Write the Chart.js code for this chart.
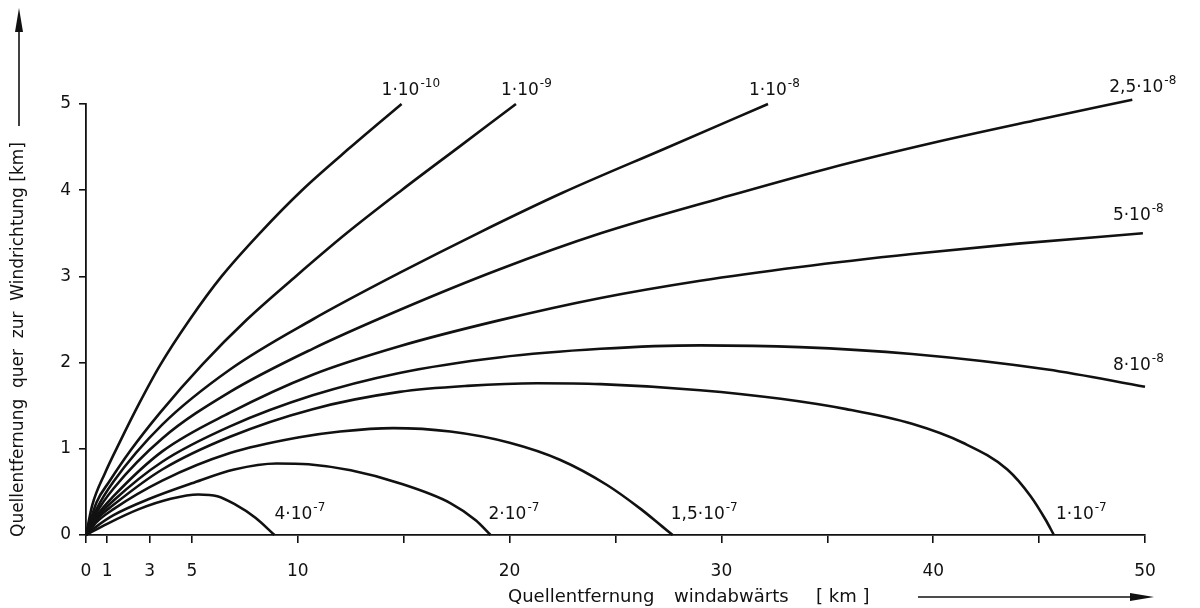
<!DOCTYPE html>
<html>
<head>
<meta charset="utf-8">
<script src="https://cdn.jsdelivr.net/npm/chart.js@4/dist/chart.umd.min.js"></script>
<style>
html, body { margin: 0; padding: 0; background: #fff; }
#wrap { width: 1200px; height: 608px; }
</style>
</head>
<body>
<div id="wrap"><canvas id="chart" width="1200" height="608"></canvas></div>
<script>
"use strict";

/*global Chart*/

// axis ticks
var xTicks = [0, 1, 3, 5, 10, 15, 20, 25, 30, 35, 40, 45, 50],
    xTickLabels = ['0', '1', '3', '5', '10', '', '20', '', '30', '', '40', '', '50'],
    yTicks = [0, 1, 2, 3, 4, 5];

// isolines [x km, y km]
var c1e10 = [[0, 0], [0.3, 0.35], [0.9, 0.72], [1.6, 1.08], [2.5, 1.52], [3.5, 1.97], [4.9, 2.5], [6.4, 3.0], [8.2, 3.5], [10.2, 4.0], [12.5, 4.5], [14.9, 5.0]],
    c1e9 = [[0, 0], [0.5, 0.38], [1.1, 0.62], [2.1, 0.98], [3.5, 1.42], [5.5, 1.98], [7.6, 2.5], [9.9, 3.0], [12.3, 3.5], [14.9, 4.0], [17.6, 4.5], [20.3, 5.0]],
    c1e8 = [[0, 0], [0.5, 0.3], [1.3, 0.62], [3.6, 1.28], [6.8, 1.92], [10.7, 2.5], [14.8, 3.04], [18.5, 3.5], [22.5, 3.97], [27.4, 4.49], [32.2, 5.0]],
    c25e8 = [[0, 0], [0.5, 0.26], [1.3, 0.54], [3.6, 1.12], [6.8, 1.66], [10.7, 2.16], [14.8, 2.61], [19.5, 3.08], [24.3, 3.5], [30, 3.91], [35, 4.25], [40, 4.55], [45, 4.82], [49.4, 5.05]],
    c5e8 = [[0, 0], [0.5, 0.22], [1.3, 0.45], [3.6, 0.97], [6.8, 1.42], [10.7, 1.86], [14.8, 2.19], [19.5, 2.49], [24.3, 2.75], [29, 2.95], [33.7, 3.11], [39, 3.26], [44, 3.38], [49.9, 3.5]],
    c8e8 = [[0, 0], [0.5, 0.2], [1.3, 0.4], [3.6, 0.85], [6.8, 1.26], [10.7, 1.62], [14.8, 1.88], [19.5, 2.06], [24.3, 2.16], [29, 2.2], [33.7, 2.18], [39, 2.1], [45.4, 1.92], [50, 1.72]],
    c1e7 = [[0, 0], [0.5, 0.18], [1.3, 0.35], [3.6, 0.76], [6.8, 1.14], [10.7, 1.46], [14.8, 1.66], [18, 1.73], [21.3, 1.76], [24.3, 1.75], [29, 1.68], [32.8, 1.58], [35.9, 1.46], [39, 1.29], [41.4, 1.07], [43.5, 0.76], [44.6, 0.45], [45.3, 0.18], [45.7, 0]],
    c15e7 = [[0, 0], [0.5, 0.15], [1.3, 0.3], [3.6, 0.63], [6.8, 0.95], [10, 1.13], [12, 1.2], [14.5, 1.24], [17.2, 1.2], [20, 1.07], [22.4, 0.87], [24.6, 0.58], [26.2, 0.3], [27.2, 0.1], [27.7, 0]],
    c2e7 = [[0, 0], [0.5, 0.1], [1.3, 0.23], [3, 0.42], [5, 0.6], [7, 0.76], [9, 0.83], [10.5, 0.82], [12.5, 0.75], [14.8, 0.6], [17.2, 0.37], [18.4, 0.17], [19.1, 0]],
    c4e7 = [[0, 0], [1, 0.13], [2.5, 0.3], [4, 0.42], [5.3, 0.47], [6.2, 0.45], [7, 0.36], [8, 0.2], [8.9, 0]];

var curves = [c1e10, c1e9, c1e8, c25e8, c5e8, c8e8, c1e7, c15e7, c2e7, c4e7],
    mantissas = ['1', '1', '1', '2,5', '5', '8', '1', '1,5', '2', '4'],
    exponents = ['-10', '-9', '-8', '-8', '-8', '-8', '-7', '-7', '-7', '-7'];

// label offset in px from the curve's last point (left edge, baseline)
var labelOffsets = [[-20, -9], [-15, -9], [-19, -9], [-23, -8], [-30, -13], [-32, -17],
    [2, -16], [-2, -16], [-2, -16], [0, -16]];

var FONT = "'DejaVu Sans', sans-serif",
    INK = '#111';

var drawLabel = function (ctx, x, y, mant, exp) {
    var base = mant + '\u00b710';
    ctx.font = '17px ' + FONT;
    ctx.textAlign = 'left';
    ctx.textBaseline = 'alphabetic';
    ctx.fillText(base, x, y);
    var w = ctx.measureText(base).width;
    ctx.font = '12px ' + FONT;
    ctx.fillText(exp, x + w + 1, y - 8);
};

var decorations = {
    id: 'decorations',
    afterDraw: function (chart) {
        var ctx = chart.ctx,
            xs = chart.scales.x,
            ys = chart.scales.y;
        ctx.save();
        ctx.fillStyle = INK;
        ctx.strokeStyle = INK;

        curves.forEach(function (c, i) {
            var last = c[c.length - 1],
                px = xs.getPixelForValue(last[0]),
                py = ys.getPixelForValue(last[1]);
            drawLabel(ctx, px + labelOffsets[i][0], py + labelOffsets[i][1], mantissas[i], exponents[i]);
        });

        // x axis title with arrow
        ctx.font = '18px ' + FONT;
        ctx.textAlign = 'left';
        ctx.textBaseline = 'middle';
        ctx.fillText('Quellentfernung', 508, 597);
        ctx.fillText('windabw\u00e4rts', 674, 597);
        ctx.fillText('[ km ]', 816, 597);
        ctx.lineWidth = 1.6;
        ctx.beginPath();
        ctx.moveTo(918, 597);
        ctx.lineTo(1140, 597);
        ctx.stroke();
        ctx.beginPath();
        ctx.moveTo(1154, 597);
        ctx.lineTo(1130, 593);
        ctx.lineTo(1130, 601);
        ctx.closePath();
        ctx.fill();

        // y axis title with arrow
        ctx.save();
        ctx.font = '17px ' + FONT;
        ctx.translate(19, 537);
        ctx.rotate(-Math.PI / 2);
        ctx.fillText('Quellentfernung  quer  zur  Windrichtung [km]', 0, 0);
        ctx.restore();
        ctx.beginPath();
        ctx.moveTo(19, 126);
        ctx.lineTo(19, 28);
        ctx.stroke();
        ctx.beginPath();
        ctx.moveTo(19, 8);
        ctx.lineTo(15, 32);
        ctx.lineTo(23, 32);
        ctx.closePath();
        ctx.fill();
        ctx.restore();
    }
};

var datasets = curves.map(function (c) {
    return {
        data: c.map(function (p) { return {x: p[0], y: p[1]}; }),
        showLine: true,
        borderColor: INK,
        borderWidth: 2.6,
        pointRadius: 0,
        cubicInterpolationMode: 'monotone',
        clip: false
    };
});

var chart = new Chart(document.getElementById('chart').getContext('2d'), {
    type: 'scatter',
    data: {datasets: datasets},
    options: {
        responsive: false,
        animation: false,
        devicePixelRatio: 1,
        layout: {padding: {top: 104, right: 55, left: 0, bottom: 0}},
        plugins: {legend: {display: false}, tooltip: {enabled: false}},
        scales: {
            x: {
                type: 'linear',
                min: 0,
                max: 50,
                afterBuildTicks: function (scale) {
                    scale.ticks = xTicks.map(function (v) { return {value: v}; });
                },
                afterFit: function (scale) { scale.height = 73; },
                ticks: {
                    autoSkip: false,
                    maxRotation: 0,
                    padding: 18,
                    color: INK,
                    font: {family: FONT, size: 17},
                    callback: function (v) { return xTickLabels[xTicks.indexOf(v)]; }
                },
                grid: {drawOnChartArea: false, tickLength: 8, color: INK, lineWidth: 1.6},
                border: {color: INK, width: 1.8}
            },
            y: {
                type: 'linear',
                min: 0,
                max: 5,
                afterBuildTicks: function (scale) {
                    scale.ticks = yTicks.map(function (v) { return {value: v}; });
                },
                afterFit: function (scale) { scale.width = 86; },
                ticks: {
                    padding: 8,
                    color: INK,
                    font: {family: FONT, size: 17}
                },
                grid: {drawOnChartArea: false, tickLength: 7, color: INK, lineWidth: 1.6},
                border: {color: INK, width: 1.8}
            }
        }
    },
    plugins: [decorations]
});
</script>
</body>
</html>
